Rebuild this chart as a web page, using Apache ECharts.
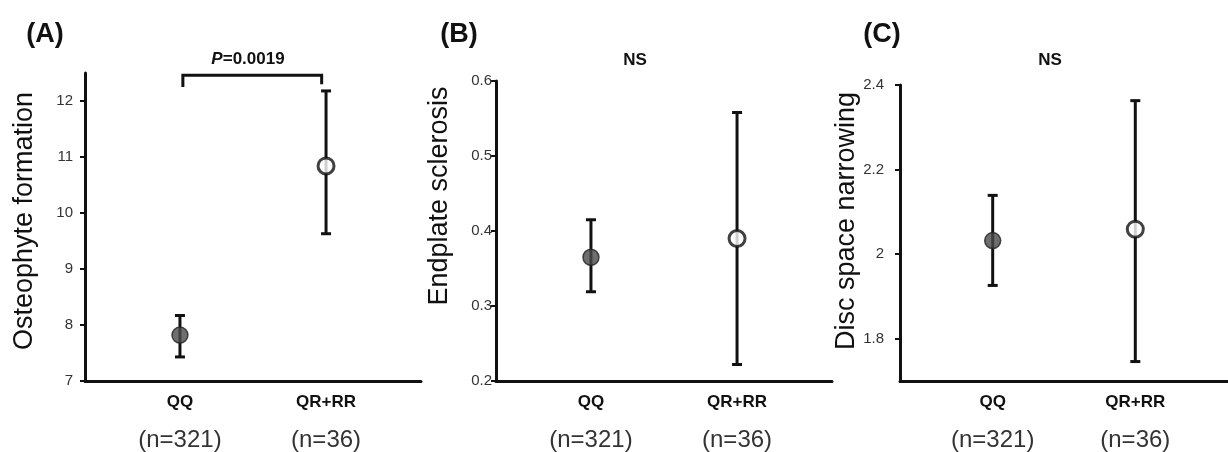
<!DOCTYPE html>
<html>
<head>
<meta charset="utf-8">
<script src="https://cdn.jsdelivr.net/npm/echarts@6/dist/echarts.min.js"></script>
<style>
  html, body { margin: 0; padding: 0; background: #fff; }
  #chart { width: 1228px; height: 452px; }
</style>
</head>
<body>
<div id="chart"></div>
<script>
const groups = ['QQ', 'QR+RR']
const groupN = ['(n=321)', '(n=36)']
const groupX = [1, 2]

// (A) osteophyte formation
const osteoMean = [7.82, 10.84]
const osteoLow = [7.43, 9.63]
const osteoHigh = [8.17, 12.18]
const osteoTicks = [7, 8, 9, 10, 11, 12]

// (B) endplate sclerosis
const endMean = [0.365, 0.39]
const endLow = [0.319, 0.222]
const endHigh = [0.415, 0.558]
const endTicks = [0.2, 0.3, 0.4, 0.5, 0.6]

// (C) disc space narrowing
const discMean = [2.032, 2.059]
const discLow = [1.926, 1.746]
const discHigh = [2.139, 2.363]
const discTicks = [1.8, 2, 2.2, 2.4]

// significance bracket in (A): x from, x to, top, left end, right end
const bracket = [1.02, 1.97, 12.46, 12.25, 12.3]

const FONT = '"Liberation Sans", Arial, sans-serif'
const INK = '#111'

const chart = echarts.init(document.getElementById('chart'))

const panels = [
  { left: 85, top: 73, height: 308, min: 7, max: 12.5, ticks: osteoTicks, margin: 12,
    mean: osteoMean, low: osteoLow, high: osteoHigh },
  { left: 496, top: 81, height: 301, min: 0.2, max: 0.6, ticks: endTicks, margin: 4,
    mean: endMean, low: endLow, high: endHigh },
  { left: 900, top: 85, height: 299, min: 1.7, max: 2.4, ticks: discTicks, margin: 16,
    mean: discMean, low: discLow, high: discHigh }
]

function errorBar(params, api) {
  const x = api.value(0)
  const lo = api.coord([x, api.value(1)])
  const hi = api.coord([x, api.value(2)])
  const w = 5
  const style = { stroke: INK, lineWidth: 3 }
  return {
    type: 'group',
    children: [
      { type: 'line', shape: { x1: lo[0], y1: lo[1], x2: hi[0], y2: hi[1] }, style },
      { type: 'line', shape: { x1: hi[0] - w, y1: hi[1], x2: hi[0] + w, y2: hi[1] }, style },
      { type: 'line', shape: { x1: lo[0] - w, y1: lo[1], x2: lo[0] + w, y2: lo[1] }, style }
    ]
  }
}

function bracketShape(params, api) {
  const a = api.coord([api.value(0), api.value(3)])
  const b = api.coord([api.value(0), api.value(2)])
  const c = api.coord([api.value(1), api.value(2)])
  const d = api.coord([api.value(1), api.value(4)])
  return {
    type: 'polyline',
    shape: { points: [a, b, c, d] },
    style: { stroke: INK, lineWidth: 3, fill: 'none' }
  }
}

const grid = panels.map(p => ({ left: p.left, top: p.top, width: 336, height: p.height }))

const xAxis = panels.map((p, i) => ({
  type: 'value',
  gridIndex: i,
  min: 0.35,
  max: 2.65,
  splitLine: { show: false },
  axisLine: { show: true, onZero: false, lineStyle: { color: INK, width: 3 } },
  axisTick: { show: false },
  axisLabel: {
    customValues: groupX,
    margin: 8,
    formatter: v => {
      const k = Math.round(v) - 1
      return '{g|' + groups[k] + '}\n{n|' + groupN[k] + '}'
    },
    rich: {
      g: { fontFamily: FONT, fontSize: 17, fontWeight: 'bold', color: '#111', lineHeight: 26 },
      n: { fontFamily: FONT, fontSize: 24, color: '#333', lineHeight: 50 }
    }
  }
}))

const yAxis = panels.map((p, i) => ({
  type: 'value',
  gridIndex: i,
  min: p.min,
  max: p.max,
  splitLine: { show: false },
  axisLine: { show: true, onZero: false, lineStyle: { color: INK, width: 3 } },
  axisTick: { show: true, length: 5, customValues: p.ticks, lineStyle: { color: INK, width: 2 } },
  axisLabel: {
    customValues: p.ticks,
    margin: p.margin,
    fontFamily: FONT,
    fontSize: 15,
    color: '#333'
  }
}))

const series = []
panels.forEach((p, i) => {
  series.push({
    type: 'custom',
    xAxisIndex: i,
    yAxisIndex: i,
    renderItem: errorBar,
    encode: { x: 0, y: [1, 2] },
    data: groupX.map((x, k) => [x, p.low[k], p.high[k]]),
    z: 2
  })
  series.push({
    type: 'scatter',
    xAxisIndex: i,
    yAxisIndex: i,
    symbol: 'circle',
    symbolSize: 16,
    data: [
      { value: [groupX[0], p.mean[0]], itemStyle: { color: '#4a4a4a', borderColor: '#222', borderWidth: 1.5 } },
      { value: [groupX[1], p.mean[1]], itemStyle: { color: '#fff', borderColor: INK, borderWidth: 3 } }
    ],
    z: 3
  })
})
series.push({
  type: 'custom',
  xAxisIndex: 0,
  yAxisIndex: 0,
  renderItem: bracketShape,
  encode: { x: [0, 1], y: [2, 3, 4] },
  data: [bracket],
  z: 2
})

function label(text, x, y, size) {
  return {
    type: 'text',
    x, y,
    style: {
      text,
      fontFamily: FONT,
      fontSize: size,
      fontWeight: 'bold',
      fill: '#111',
      textAlign: 'center',
      textVerticalAlign: 'middle'
    }
  }
}

function yName(text, x, y) {
  return {
    type: 'text',
    x, y,
    rotation: Math.PI / 2,
    style: {
      text,
      fontFamily: FONT,
      fontSize: 27,
      fill: '#111',
      textAlign: 'center',
      textVerticalAlign: 'middle'
    }
  }
}

const graphic = [
  label('(A)', 45, 35, 27),
  label('(B)', 459, 35, 27),
  label('(C)', 882, 35, 27),
  yName('Osteophyte formation', 25, 221),
  yName('Endplate sclerosis', 440, 196),
  yName('Disc space narrowing', 847, 221),
  {
    type: 'text',
    x: 248, y: 59,
    style: {
      text: '{i|P}{b|=0.0019}',
      textAlign: 'center',
      textVerticalAlign: 'middle',
      rich: {
        i: { fontFamily: FONT, fontSize: 17, fontStyle: 'italic', fontWeight: 'bold', fill: '#111' },
        b: { fontFamily: FONT, fontSize: 17, fontWeight: 'bold', fill: '#111' }
      }
    }
  },
  label('NS', 635, 60, 17),
  label('NS', 1050, 60, 17)
]

chart.setOption({
  animation: false,
  backgroundColor: '#fff',
  grid,
  xAxis,
  yAxis,
  series,
  graphic
})

window.addEventListener('resize', () => chart.resize())
</script>
</body>
</html>
